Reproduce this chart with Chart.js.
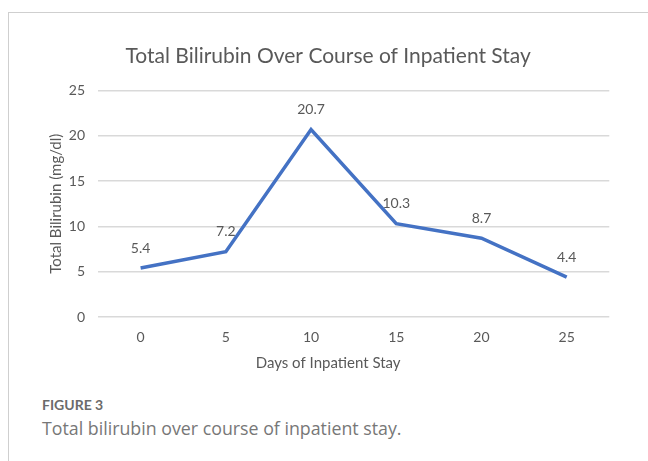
<!DOCTYPE html>
<html>
<head>
<meta charset="utf-8">
<script src="https://cdn.jsdelivr.net/npm/chart.js@4"></script>
<style>
  html, body { margin: 0; padding: 0; background: #fff; }
  body { width: 648px; height: 461px; position: relative; overflow: hidden; }
  #frame { position: absolute; left: 8px; top: 12px; width: 700px; height: 500px;
           border-left: 1px solid #cfcfcf; border-top: 1px solid #cfcfcf; }
  #wrap { position: absolute; left: 0; top: 0; width: 648px; height: 385px; }
  .fig { position: absolute; left: 42px; white-space: nowrap; }
  #figno { top: 396px; font-family: Lato, sans-serif; font-size: 14px; font-weight: 700; color: #6b6b6b; }
  #figcap { top: 416px; font-family: "Open Sans", sans-serif; font-size: 17.8px; color: #777; }
</style>
</head>
<body>
<div id="frame"></div>
<div id="wrap"><canvas id="chart"></canvas></div>
<div class="fig" id="figno">FIGURE 3</div>
<div class="fig" id="figcap">Total bilirubin over course of inpatient stay.</div>
<script>
const days = ['0', '5', '10', '15', '20', '25'];
const bilirubin = [5.4, 7.2, 20.7, 10.3, 8.7, 4.4];
const yTicks = [0, 5, 10, 15, 20, 25];

const textColor = '#595959';

// value labels above each point
const pointLabels = {
  id: 'pointLabels',
  afterDatasetsDraw(chart) {
    const ctx = chart.ctx;
    const meta = chart.getDatasetMeta(0);
    ctx.save();
    ctx.font = '14px Lato';
    ctx.fillStyle = textColor;
    ctx.textAlign = 'center';
    ctx.textBaseline = 'middle';
    meta.data.forEach((pt, i) => {
      ctx.fillText(String(bilirubin[i]), pt.x, pt.y - 20);
    });
    ctx.restore();
  }
};

new Chart(document.getElementById('chart').getContext('2d'), {
  type: 'line',
  data: {
    labels: days,
    datasets: [{
      label: 'Total Bilirubin', data: bilirubin,
      borderColor: '#4472C4', borderWidth: 3.5,
      pointRadius: 0, tension: 0, fill: false,
      borderJoinStyle: 'miter'
    }]
  },
  options: {
    responsive: true, maintainAspectRatio: false, animation: false,
    layout: { padding: { left: 47, right: 38.7, top: 0, bottom: 0 } },
    plugins: {
      legend: { display: false }, tooltip: { enabled: false },
      title: {
        display: true, text: 'Total Bilirubin Over Course of Inpatient Stay',
        color: textColor, font: { family: 'Lato', size: 21, weight: 'normal' },
        padding: { top: 43.4, bottom: 21.9 }
      },
      subtitle: {
        display: true, position: 'bottom', text: 'Days of Inpatient Stay',
        color: textColor, font: { family: 'Lato', size: 15, weight: 'normal' },
        padding: { top: 0, bottom: 13 }
      }
    },
    scales: {
      x: {
        type: 'category', offset: true,
        grid: { display: false, drawTicks: false }, border: { display: false },
        ticks: { color: textColor, font: { family: 'Lato', size: 14 }, padding: 11.6, maxRotation: 0 },
        afterFit: s => { s.height = 37; }
      },
      y: {
        min: 0, max: 25,
        afterBuildTicks: s => { s.ticks = yTicks.map(v => ({ value: v })); },
        grid: { color: '#d9d9d9', lineWidth: 1.5, drawTicks: false }, border: { display: false },
        ticks: { color: textColor, font: { family: 'Lato', size: 14 }, padding: 13 },
        title: {
          display: true, text: 'Total Bilirubin (mg/dl)', color: textColor,
          font: { family: 'Lato', size: 15 }, padding: { top: 0, bottom: 0 }
        },
        afterFit: s => { s.width = 51; }
      }
    }
  },
  plugins: [pointLabels]
});
</script>
</body>
</html>
